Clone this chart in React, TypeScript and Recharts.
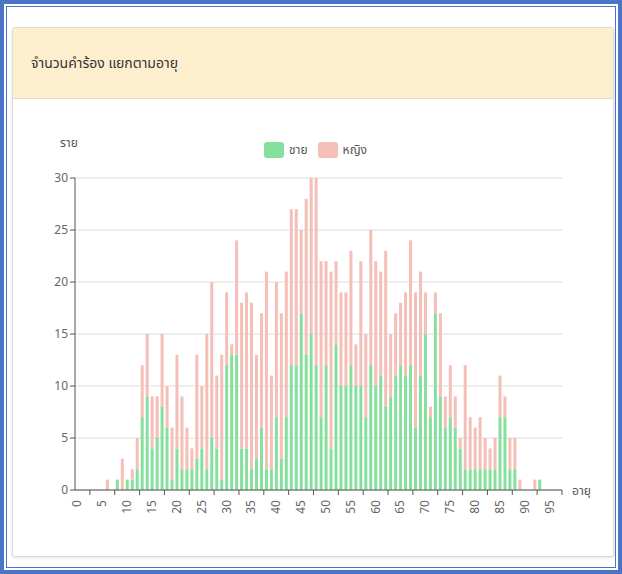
import React from "react"
import { BarChart, Bar, XAxis, YAxis, CartesianGrid } from "recharts"

// ช่วงอายุ 0 - 97 ปี
const ages = [
  0, 1, 2, 3, 4, 5, 6, 7, 8, 9, 10, 11, 12, 13, 14, 15, 16, 17, 18, 19,
  20, 21, 22, 23, 24, 25, 26, 27, 28, 29, 30, 31, 32, 33, 34, 35, 36, 37, 38, 39,
  40, 41, 42, 43, 44, 45, 46, 47, 48, 49, 50, 51, 52, 53, 54, 55, 56, 57, 58, 59,
  60, 61, 62, 63, 64, 65, 66, 67, 68, 69, 70, 71, 72, 73, 74, 75, 76, 77, 78, 79,
  80, 81, 82, 83, 84, 85, 86, 87, 88, 89, 90, 91, 92, 93, 94, 95, 96, 97,
]

// ชาย
const male = [
  0, 0, 0, 0, 0, 0, 0, 0, 1, 0, 1, 1, 2, 7, 9, 4, 5, 8, 6, 1,
  4, 2, 2, 2, 3, 4, 2, 5, 4, 1, 12, 13, 13, 4, 4, 2, 3, 6, 2, 2,
  7, 3, 7, 12, 12, 17, 13, 15, 12, 7, 12, 4, 14, 10, 10, 12, 10, 10, 7, 12,
  10, 11, 8, 9, 11, 12, 11, 12, 6, 11, 15, 7, 17, 9, 6, 7, 6, 4, 2, 2,
  2, 2, 2, 2, 2, 7, 7, 2, 2, 0, 0, 0, 0, 1, 0, 0, 0, 0,
]

// หญิง
const female = [
  0, 0, 0, 0, 0, 0, 1, 0, 0, 3, 0, 1, 3, 5, 6, 5, 4, 7, 4, 5,
  9, 7, 4, 2, 10, 6, 13, 15, 7, 12, 7, 1, 11, 14, 15, 16, 10, 11, 19, 9,
  13, 14, 14, 15, 15, 8, 15, 15, 18, 15, 10, 17, 8, 9, 9, 11, 4, 12, 8, 13,
  12, 10, 15, 6, 6, 6, 8, 12, 13, 10, 4, 1, 2, 8, 3, 5, 3, 1, 10, 5,
  4, 5, 3, 2, 3, 4, 2, 3, 3, 1, 0, 0, 1, 0, 0, 0, 0, 0,
]

const yTicks = [0, 5, 10, 15, 20, 25, 30]

const GREEN = "#86e09d"
const PINK = "#f5beb6"
const BLUE = "#4a74c8"
const FONT = "'Noto Sans Thai', 'Noto Sans', 'DejaVu Sans', sans-serif"

const chartData = ages.map((age, i) => ({ age, male: male[i], female: female[i] }))

function AgeTick(props: any) {
  const { x, y, payload } = props
  return (
    <g>
      <line x1={x + 12.4} y1={y - 8} x2={x + 12.4} y2={y - 3} stroke="#555" />
      <text
        x={x}
        y={y + 2}
        transform={`rotate(-90 ${x} ${y + 2})`}
        textAnchor="end"
        dominantBaseline="central"
        fontSize={12}
        fill="#666"
        fontFamily={FONT}
      >
        {payload.value}
      </text>
    </g>
  )
}

export default function App() {
  return (
    <div
      style={{
        position: "absolute",
        left: 0,
        top: 0,
        width: 622,
        height: 574,
        background: BLUE,
        fontFamily: FONT,
      }}
    >
      <div style={{ position: "absolute", left: 4, top: 4, right: 4, bottom: 4, background: "#fff" }} />
      <div style={{ position: "absolute", left: 6, top: 6, right: 6, bottom: 6, border: `1px solid ${BLUE}` }} />

      {/* กล่องกราฟ */}
      <div
        style={{
          position: "absolute",
          left: 12,
          top: 27,
          width: 600,
          height: 528,
          border: "1px solid #dcdcdc",
          borderRadius: 3,
          boxShadow: "0 1px 3px rgba(0,0,0,0.12)",
          background: "#fff",
          overflow: "hidden",
        }}
      >
        <div
          style={{
            height: 70,
            background: "#fdefce",
            borderBottom: "1px solid #e6dcc4",
            display: "flex",
            alignItems: "center",
            paddingLeft: 18,
            fontSize: 14,
            color: "#333",
          }}
        >
          จำนวนคำร้อง แยกตามอายุ
        </div>
      </div>

      <div style={{ position: "absolute", left: 4, top: 4 }}>
        <BarChart
          width={614}
          height={566}
          data={chartData}
          margin={{ top: 174, right: 56, bottom: 50, left: 41 }}
          barCategoryGap="22%"
        >
          <CartesianGrid vertical={false} stroke="#dddddd" />
          <XAxis
            dataKey="age"
            interval={4}
            tick={<AgeTick />}
            tickLine={false}
            axisLine={{ stroke: "#555" }}
            height={30}
          />
          <YAxis
            domain={[0, 30]}
            ticks={yTicks}
            width={30}
            tick={{ fontSize: 12, fill: "#666", fontFamily: FONT }}
            tickSize={5}
            axisLine={{ stroke: "#555" }}
            tickLine={{ stroke: "#555" }}
          />
          <Bar dataKey="male" stackId="a" fill={GREEN} isAnimationActive={false} />
          <Bar dataKey="female" stackId="a" fill={PINK} isAnimationActive={false} />
        </BarChart>
      </div>

      {/* ป้ายแกนและคำอธิบาย */}
      <div style={{ position: "absolute", left: 60, top: 134, fontSize: 12, color: "#555" }}>ราย</div>
      <div style={{ position: "absolute", left: 572, top: 482, fontSize: 12, color: "#555" }}>อายุ</div>
      <div
        style={{
          position: "absolute",
          left: 264,
          top: 141,
          display: "flex",
          alignItems: "center",
          fontSize: 12,
          color: "#555",
        }}
      >
        <span style={{ width: 20, height: 16, background: GREEN, borderRadius: 3, marginRight: 5 }} />
        <span style={{ marginRight: 10 }}>ชาย</span>
        <span style={{ width: 20, height: 16, background: PINK, borderRadius: 3, marginRight: 5 }} />
        <span>หญิง</span>
      </div>
    </div>
  )
}
